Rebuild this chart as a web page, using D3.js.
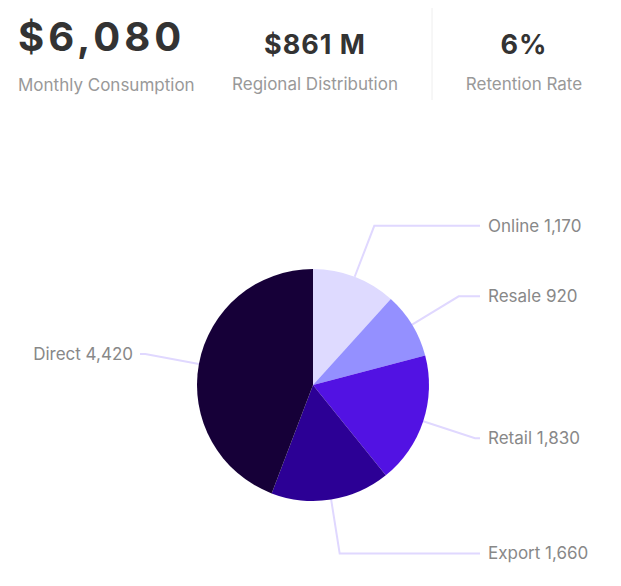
<!DOCTYPE html>
<html lang="en">
<head>
  <meta charset="utf-8">
  <title>Inventory pie</title>
  <script src="https://d3js.org/d3.v7.min.js"></script>
  <style>
    body { margin: 0; background: #fff; font-family: Inter, "Open Sans", sans-serif; }
  </style>
</head>
<body>
<script>
  // KPI row
  var kpiValues = ["$6,080", "$861 M", "6%"];
  var kpiLabels = ["Monthly Consumption", "Regional Distribution", "Retention Rate"];

  // pie slices, clockwise from 12 o'clock
  var categories = ["Online", "Resale", "Retail", "Export", "Direct"];
  var values = [1170, 920, 1830, 1660, 4420];
  var colors = ["#dedaff", "#9490ff", "#5212e3", "#2c0095", "#160038"];

  var width = 621, height = 586;
  var svg = d3.select("body").append("svg")
    .attr("width", width)
    .attr("height", height);

  // ---- KPIs
  var kpi = [
    { x: 18, anchor: "start", vy: 36, size: 40, ls: 4, ly: 85 },
    { x: 315, anchor: "middle", vy: 44, size: 27, ls: 1, ly: 84 },
    { x: 524, anchor: "middle", vy: 44, size: 27, ls: 1, ly: 84 }
  ];
  kpi.forEach(function (k, i) {
    svg.append("text")
      .attr("x", k.x).attr("y", k.vy)
      .attr("text-anchor", k.anchor)
      .attr("dominant-baseline", "central")
      .attr("font-size", k.size + "px")
      .attr("font-weight", 700)
      .attr("letter-spacing", k.ls + "px")
      .attr("fill", "#333")
      .text(kpiValues[i]);
    svg.append("text")
      .attr("x", k.x).attr("y", k.ly)
      .attr("text-anchor", k.anchor)
      .attr("dominant-baseline", "central")
      .attr("font-size", "17px")
      .attr("fill", "#999")
      .text(kpiLabels[i]);
  });
  svg.append("line")
    .attr("x1", 432).attr("x2", 432)
    .attr("y1", 8).attr("y2", 100)
    .attr("stroke", "#eee");

  // ---- pie
  var cx = 313, cy = 385, r = 116;
  var g = svg.append("g").attr("transform", "translate(" + cx + "," + cy + ")");

  var data = categories.map(function (c, i) { return { name: c, value: values[i], color: colors[i] }; });
  var pie = d3.pie().sort(null).value(function (d) { return d.value; });
  var arcs = pie(data);

  var arc = d3.arc().innerRadius(0).outerRadius(r);
  var edgeArc = d3.arc().innerRadius(r).outerRadius(r);
  var outerArc = d3.arc().innerRadius(r * 1.47).outerRadius(r * 1.47);
  var fmt = d3.format(",");

  function midAngle(d) { return d.startAngle + (d.endAngle - d.startAngle) / 2; }

  g.selectAll("polyline")
    .data(arcs)
    .enter()
    .append("polyline")
    .attr("fill", "none")
    .attr("stroke", "#e0d8ff")
    .attr("stroke-width", 2)
    .attr("points", function (d) {
      var a = edgeArc.centroid(d);
      var b = outerArc.centroid(d);
      var left = midAngle(d) > Math.PI;
      var c = [left ? 140 - cx : 480 - cx, b[1]];
      return [a, b, c];
    });

  g.selectAll("path")
    .data(arcs)
    .enter()
    .append("path")
    .attr("d", arc)
    .attr("fill", function (d) { return d.data.color; });

  g.selectAll("text.lbl")
    .data(arcs)
    .enter()
    .append("text")
    .attr("class", "lbl")
    .attr("x", function (d) { return midAngle(d) > Math.PI ? 133 - cx : 488 - cx; })
    .attr("y", function (d) { return outerArc.centroid(d)[1]; })
    .attr("text-anchor", function (d) { return midAngle(d) > Math.PI ? "end" : "start"; })
    .attr("dominant-baseline", "central")
    .attr("font-size", "17px")
    .attr("fill", "#888")
    .text(function (d) { return d.data.name + " " + fmt(d.data.value); });
</script>
</body>
</html>
